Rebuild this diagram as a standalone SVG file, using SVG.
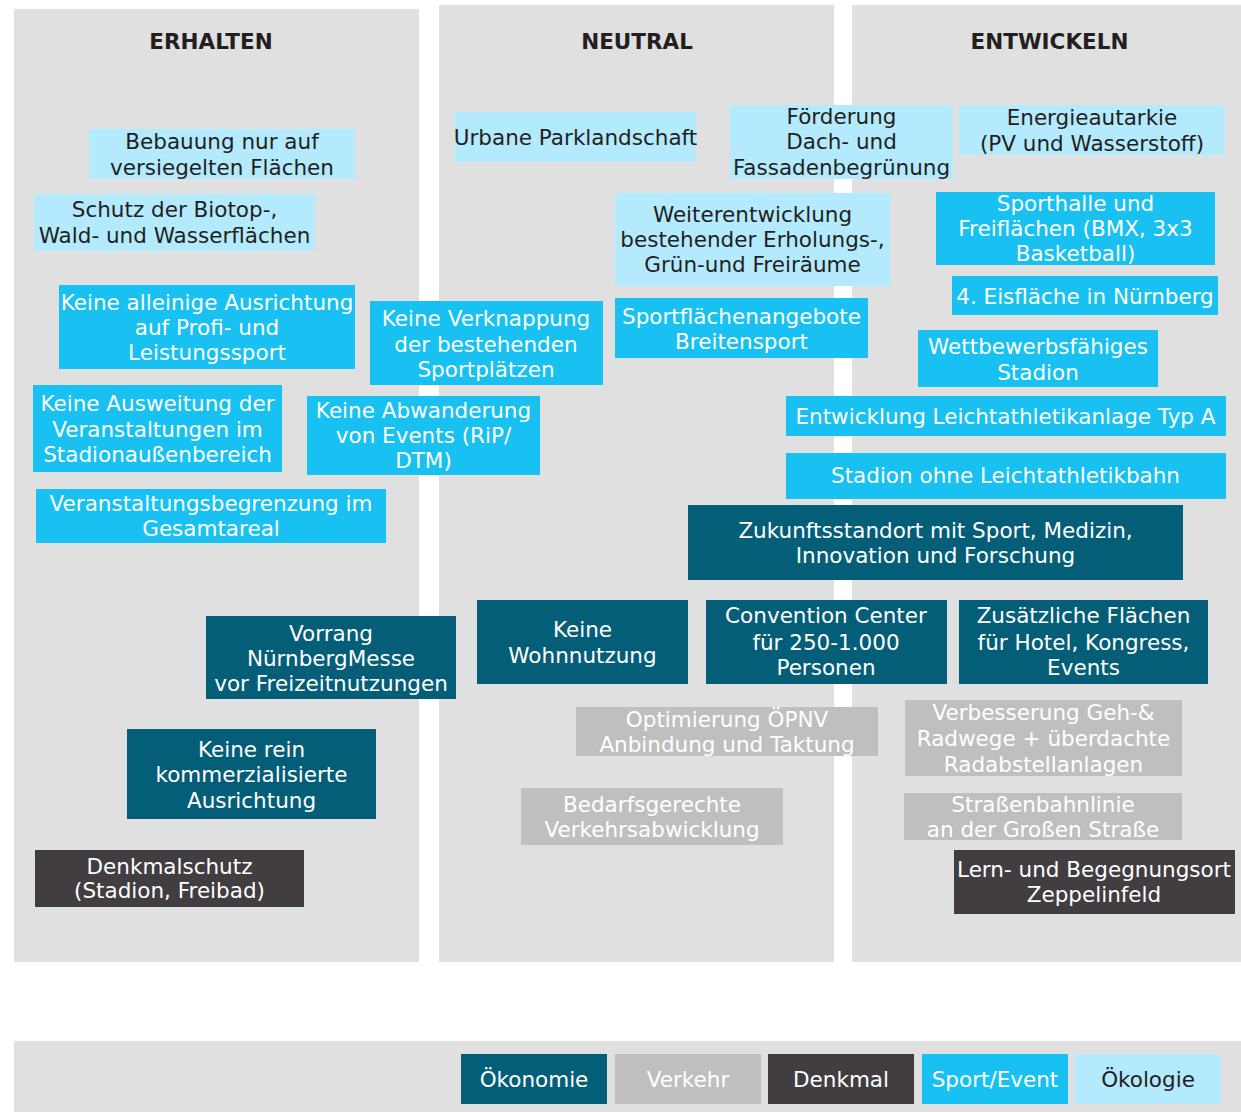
<svg xmlns="http://www.w3.org/2000/svg" width="1241" height="1112" viewBox="0 0 1241 1112">
<style>
text{font-family:"DejaVu Sans",Verdana,"Liberation Sans",sans-serif;font-size:21.5px;text-anchor:middle}
.hd{font-weight:bold;fill:#231f20}
.panel{fill:#e0e0e0}
.oek{fill:#055e77}.ver{fill:#bfbfbf}.den{fill:#423d40}.spo{fill:#18c1f1}.eko{fill:#b4eafd}
.tw{fill:#ffffff}.td{fill:#231f20}
</style>
<rect width="1241" height="1112" fill="#ffffff"/>
<g id="panels">
<rect class="panel" x="14" y="9" width="405" height="953"/>
<rect class="panel" x="439" y="5" width="395" height="957"/>
<rect class="panel" x="852" y="5" width="389" height="957"/>
<text class="hd" x="211" y="49">ERHALTEN</text>
<text class="hd" x="637" y="49">NEUTRAL</text>
<text class="hd" x="1049.5" y="49">ENTWICKELN</text>
</g>
<g id="connectors"/>
<g id="n1"><rect class="eko" x="89" y="129" width="266" height="50"/><text class="td" x="222"><tspan x="222" y="149">Bebauung nur auf</tspan><tspan x="222" y="175">versiegelten Flächen</tspan></text></g>
<g id="n2"><rect class="eko" x="34" y="194" width="281" height="57"/><text class="td"><tspan x="174.5" y="217">Schutz der Biotop-,</tspan><tspan x="174.5" y="243">Wald- und Wasserflächen</tspan></text></g>
<g id="n3"><rect class="spo" x="59" y="285" width="296" height="84"/><text class="tw"><tspan x="207" y="310">Keine alleinige Ausrichtung</tspan><tspan x="207" y="335">auf Profi- und</tspan><tspan x="207" y="360">Leistungssport</tspan></text></g>
<g id="n4"><rect class="spo" x="370" y="301" width="233" height="84"/><text class="tw"><tspan x="486" y="326">Keine Verknappung</tspan><tspan x="486" y="352">der bestehenden</tspan><tspan x="486" y="377">Sportplätzen</tspan></text></g>
<g id="n5"><rect class="spo" x="33" y="385" width="249" height="87"/><text class="tw"><tspan x="157.5" y="411">Keine Ausweitung der</tspan><tspan x="157.5" y="437">Veranstaltungen im</tspan><tspan x="157.5" y="462">Stadionaußenbereich</tspan></text></g>
<g id="n6"><rect class="spo" x="307" y="396" width="233" height="79"/><text class="tw"><tspan x="423.5" y="418">Keine Abwanderung</tspan><tspan x="423.5" y="443">von Events (RiP/</tspan><tspan x="423.5" y="468">DTM)</tspan></text></g>
<g id="n7"><rect class="spo" x="36" y="489" width="350" height="54"/><text class="tw"><tspan x="211" y="511">Veranstaltungsbegrenzung im</tspan><tspan x="211" y="536">Gesamtareal</tspan></text></g>
<g id="n8"><rect class="oek" x="206" y="616" width="250" height="83"/><text class="tw"><tspan x="331" y="641">Vorrang</tspan><tspan x="331" y="666">NürnbergMesse</tspan><tspan x="331" y="691">vor Freizeitnutzungen</tspan></text></g>
<g id="n9"><rect class="oek" x="127" y="729" width="249" height="90"/><text class="tw"><tspan x="251.5" y="757">Keine rein</tspan><tspan x="251.5" y="782">kommerzialisierte</tspan><tspan x="251.5" y="808">Ausrichtung</tspan></text></g>
<g id="n10"><rect class="den" x="35" y="850" width="269" height="57"/><text class="tw"><tspan x="169.5" y="874">Denkmalschutz</tspan><tspan x="169.5" y="898">(Stadion, Freibad)</tspan></text></g>
<g id="n11"><rect class="eko" x="455" y="112" width="241" height="50"/><text class="td" x="575.5" y="145">Urbane Parklandschaft</text></g>
<g id="n12"><rect class="eko" x="730" y="105" width="223" height="74"/><text class="td"><tspan x="841.5" y="124">Förderung</tspan><tspan x="841.5" y="149">Dach- und</tspan><tspan x="841.5" y="175">Fassadenbegrünung</tspan></text></g>
<g id="n13"><rect class="eko" x="615" y="193" width="275" height="93"/><text class="td"><tspan x="752.5" y="222">Weiterentwicklung</tspan><tspan x="752.5" y="247">bestehender Erholungs-,</tspan><tspan x="752.5" y="272">Grün-und Freiräume</tspan></text></g>
<g id="n14"><rect class="spo" x="615" y="298" width="253" height="60"/><text class="tw"><tspan x="741.5" y="324">Sportflächenangebote</tspan><tspan x="741.5" y="349">Breitensport</tspan></text></g>
<g id="n15"><rect class="oek" x="477" y="600" width="211" height="84"/><text class="tw"><tspan x="582.5" y="637">Keine</tspan><tspan x="582.5" y="663">Wohnnutzung</tspan></text></g>
<g id="n16"><rect class="ver" x="576" y="707" width="302" height="49"/><text class="tw"><tspan x="727" y="727">Optimierung ÖPNV</tspan><tspan x="727" y="752">Anbindung und Taktung</tspan></text></g>
<g id="n17"><rect class="ver" x="521" y="788" width="262" height="57"/><text class="tw"><tspan x="652" y="812">Bedarfsgerechte</tspan><tspan x="652" y="837">Verkehrsabwicklung</tspan></text></g>
<g id="n18"><rect class="eko" x="959" y="105" width="266" height="50"/><text class="td"><tspan x="1092" y="125">Energieautarkie</tspan><tspan x="1092" y="151">(PV und Wasserstoff)</tspan></text></g>
<g id="n19"><rect class="spo" x="936" y="192" width="279" height="73"/><text class="tw"><tspan x="1075.5" y="211">Sporthalle und</tspan><tspan x="1075.5" y="236">Freiflächen (BMX, 3x3</tspan><tspan x="1075.5" y="261">Basketball)</tspan></text></g>
<g id="n20"><rect class="spo" x="952" y="276" width="266" height="39"/><text class="tw" x="1085" y="304">4. Eisfläche in Nürnberg</text></g>
<g id="n21"><rect class="spo" x="918" y="330" width="240" height="57"/><text class="tw"><tspan x="1038" y="354">Wettbewerbsfähiges</tspan><tspan x="1038" y="380">Stadion</tspan></text></g>
<g id="n22"><rect class="spo" x="786" y="396" width="440" height="40"/><text class="tw" x="1005.5" y="424">Entwicklung Leichtathletikanlage Typ A</text></g>
<g id="n23"><rect class="spo" x="786" y="453" width="440" height="46"/><text class="tw" x="1005.5" y="483">Stadion ohne Leichtathletikbahn</text></g>
<g id="n24"><rect class="oek" x="688" y="505" width="495" height="75"/><text class="tw"><tspan x="935.5" y="538">Zukunftsstandort mit Sport, Medizin,</tspan><tspan x="935.5" y="563">Innovation und Forschung</tspan></text></g>
<g id="n25"><rect class="oek" x="706" y="600" width="241" height="84"/><text class="tw"><tspan x="826" y="623">Convention Center</tspan><tspan x="826" y="650">für 250-1.000</tspan><tspan x="826" y="675">Personen</tspan></text></g>
<g id="n26"><rect class="oek" x="959" y="600" width="249" height="84"/><text class="tw"><tspan x="1083.5" y="623">Zusätzliche Flächen</tspan><tspan x="1083.5" y="650">für Hotel, Kongress,</tspan><tspan x="1083.5" y="675">Events</tspan></text></g>
<g id="n27"><rect class="ver" x="905" y="700" width="277" height="76"/><text class="tw"><tspan x="1043.5" y="720">Verbesserung Geh-&amp;</tspan><tspan x="1043.5" y="746">Radwege + überdachte</tspan><tspan x="1043.5" y="772">Radabstellanlagen</tspan></text></g>
<g id="n28"><rect class="ver" x="904" y="793" width="278" height="47"/><text class="tw"><tspan x="1043" y="812">Straßenbahnlinie</tspan><tspan x="1043" y="837">an der Großen Straße</tspan></text></g>
<g id="n29"><rect class="den" x="954" y="850" width="281" height="64"/><text class="tw"><tspan x="1094" y="877">Lern- und Begegnungsort</tspan><tspan x="1094" y="902">Zeppelinfeld</tspan></text></g>
<g id="legend">
<rect class="panel" x="14" y="1041" width="1227" height="71"/>
<rect class="oek" x="461" y="1054" width="146" height="50"/><text class="tw" x="534" y="1087">Ökonomie</text>
<rect class="ver" x="615" y="1054" width="146" height="50"/><text class="tw" x="688" y="1087">Verkehr</text>
<rect class="den" x="768" y="1054" width="146" height="50"/><text class="tw" x="841" y="1087">Denkmal</text>
<rect class="spo" x="922" y="1054" width="146" height="50"/><text class="tw" x="995" y="1087">Sport/Event</text>
<rect class="eko" x="1075" y="1054" width="146" height="50"/><text class="td" x="1148" y="1087">Ökologie</text>
</g>
</svg>
